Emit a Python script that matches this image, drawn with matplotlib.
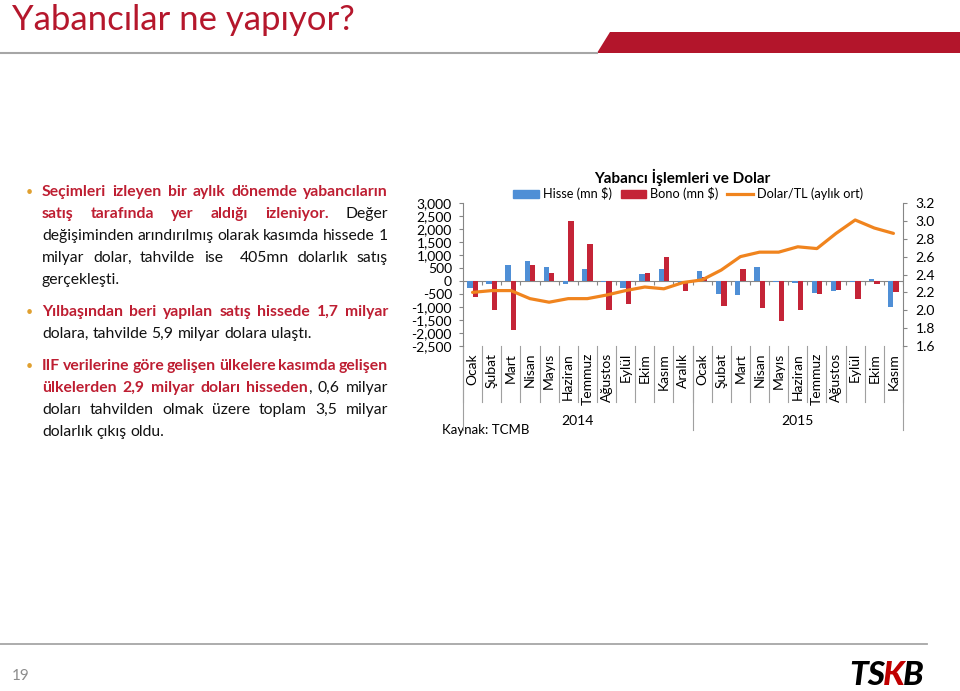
import matplotlib
matplotlib.use("Agg")
import matplotlib.pyplot as plt
import matplotlib.transforms as mtrans
from matplotlib.patches import Polygon, Patch
from matplotlib.lines import Line2D
import numpy as np

plt.rcParams['font.family'] = ['Lato', 'DejaVu Sans']
plt.rcParams['axes.unicode_minus'] = False

# ---- chart data ----
months = ['Ocak', 'Şubat', 'Mart', 'Nisan', 'Mayıs', 'Haziran', 'Temmuz', 'Ağustos',
          'Eylül', 'Ekim', 'Kasım', 'Aralık',
          'Ocak', 'Şubat', 'Mart', 'Nisan', 'Mayıs', 'Haziran', 'Temmuz', 'Ağustos',
          'Eylül', 'Ekim', 'Kasım']
years = ['2014', '2015']
year_len = [12, 11]
hisse = [-270, -115, 630, 760, 550, -100, 470, -40, -260, 270, 470, -60,
         400, -490, -550, 550, -30, -80, -460, -385, -40, 90, -1010]
bono = [-615, -1100, -1900, 630, 320, 2300, 1440, -1100, -900, 320, 910, -370,
        140, -975, 450, -1040, -1550, -1130, -510, -330, -690, -100, -420]
dolar = [2.20, 2.22, 2.22, 2.13, 2.09, 2.13, 2.13, 2.17, 2.22, 2.26, 2.24, 2.31,
         2.34, 2.45, 2.60, 2.65, 2.65, 2.71, 2.69, 2.86, 3.01, 2.92, 2.86]

# ---- slide text ----
paragraphs = [
    [[("Seçimleri izleyen bir aylık dönemde yabancıların", True)],
     [("satış tarafında yer aldığı izleniyor.", True), (" Değer", False)],
     [("değişiminden arındırılmış olarak kasımda hissede 1", False)],
     [("milyar dolar, tahvilde ise  405mn dolarlık satış", False)],
     [("gerçekleşti.", False)]],
    [[("Yılbaşından beri yapılan satış hissede 1,7 milyar", True)],
     [("dolara, tahvilde 5,9 milyar dolara ulaştı.", False)]],
    [[("IIF verilerine göre gelişen ülkelere kasımda gelişen", True)],
     [("ülkelerden 2,9 milyar doları hisseden", True), (", 0,6 milyar", False)],
     [("doları tahvilden olmak üzere toplam 3,5 milyar", False)],
     [("dolarlık çıkış oldu.", False)]],
]
para_y = [[195.5, 217.5, 239.5, 261.5, 283.5], [315.5, 337.5],
          [369.5, 391.5, 413.5, 435.5]]

RED = '#B5172C'
TXTRED = '#BE1E32'
BLUE = '#4F8FD6'
BARRED = '#C42437'
ORANGE = '#F0841E'
GREY = '#8C8C8C'

fig = plt.figure(figsize=(9.6, 6.91), dpi=100)
ov = fig.add_axes([0, 0, 1, 1])
ov.set_xlim(0, 960)
ov.set_ylim(691, 0)
ov.axis('off')
renderer = fig.canvas.get_renderer()

# header / footer
ov.text(12, 30, 'Yabancılar ne yapıyor?', fontsize=25, color=RED, va='baseline')
ov.add_patch(Polygon([(597, 53), (610, 32), (960, 32), (960, 53)], closed=True,
                     color='#B3152B', lw=0))
ov.plot([0, 597], [52.5, 52.5], color='#A6A6A6', lw=1.5)
ov.plot([0, 927], [644, 644], color='#A6A6A6', lw=1.3)
ov.text(12, 680, '19', fontsize=11, color=GREY, va='baseline')

# logo
lx = 849
for s, c in [('TS', 'black'), ('K', '#C00000'), ('B', 'black')]:
    t = ov.text(lx, 685, s, fontsize=24, fontweight='black', style='italic',
                color=c, va='baseline')
    lx += t.get_window_extent(renderer).width - 2

# bullet text, justified like the slide
FS = 12.5
X0, X1 = 42, 388


def measure(s, bold, size):
    t = ov.text(0, 0, s, fontsize=size, fontweight='bold' if bold else 'normal')
    w = t.get_window_extent(renderer).width
    t.remove()
    return w


def to_words(runs):
    words = [[]]
    for text, bold in runs:
        parts = text.split(' ')
        for k, p in enumerate(parts):
            if k > 0:
                words.append([])
            if p:
                words[-1].append((p, bold))
    return words


# one common size so the widest justified line still fits
sp0 = measure('a a', False, FS) - measure('aa', False, FS)
size = FS
for lines in paragraphs:
    for li, runs in enumerate(lines):
        if li == len(lines) - 1:
            continue
        words = to_words(runs)
        nat = sum(sum(measure(s, b, FS) for s, b in w) for w in words) \
            + 0.7 * sp0 * (len(words) - 1)
        size = min(size, FS * (X1 - X0) / nat)
space_w = measure('a a', False, size) - measure('aa', False, size)

for lines, ys in zip(paragraphs, para_y):
    ov.text(26, ys[0], '•', fontsize=9, color='#E0A030', va='baseline')
    for li, (runs, y) in enumerate(zip(lines, ys)):
        words = to_words(runs)
        widths = [sum(measure(s, b, size) for s, b in w) for w in words]
        last = li == len(lines) - 1
        if not last and len(words) > 1:
            gap = (X1 - X0 - sum(widths)) / (len(words) - 1)
        else:
            gap = space_w
        x = X0
        for w, ww in zip(words, widths):
            for s, b in w:
                ov.text(x, y, s, fontsize=size, va='baseline',
                        fontweight='bold' if b else 'normal',
                        color=TXTRED if b else '#111111')
                x += measure(s, b, size)
            x += gap

# ---- chart ----
ax = fig.add_axes([463 / 960, 1 - 346 / 691, 440 / 960, 143 / 691])
ax.patch.set_visible(False)
n = len(months)
x = np.arange(n)
w = 0.28
ax.bar(x - w / 2, hisse, w, color=BLUE, zorder=3)
ax.bar(x + w / 2, bono, w, color=BARRED, zorder=3)
ax.set_xlim(-0.5, n - 0.5)
ax.set_ylim(-2500, 3000)
ax.set_yticks(np.arange(-2500, 3001, 500))
ax.set_yticklabels([f"{v:,.0f}" for v in np.arange(-2500, 3001, 500)], fontsize=10)
ax.axhline(0, color='#868686', lw=0.8, zorder=2)
bounds = np.arange(-0.5, n, 1.0)
ax.vlines(bounds, -150, 0, color='#868686', lw=0.8, zorder=2)
ax.set_xticks(x)
ax.set_xticklabels(months, rotation=90, fontsize=10)
ax.tick_params(axis='x', length=0, pad=5)
ax.tick_params(axis='y', length=3, color='#868686', pad=5)
for sp in ['top', 'right', 'bottom']:
    ax.spines[sp].set_visible(False)
ax.spines['left'].set_color('#868686')

ax2 = ax.twinx()
ax2.plot(x, dolar, color=ORANGE, lw=2.3, zorder=4, solid_capstyle='round')
ax2.set_ylim(1.6, 3.2)
ax2.set_yticks(np.arange(1.6, 3.21, 0.2))
ax2.set_yticklabels([f"{v:.1f}" for v in np.arange(1.6, 3.21, 0.2)], fontsize=10)
ax2.tick_params(axis='y', length=3, color='#868686', pad=6)
for sp in ['top', 'left', 'bottom']:
    ax2.spines[sp].set_visible(False)
ax2.spines['right'].set_color('#868686')

# category separators below the plot
tr = mtrans.blended_transform_factory(ax.transData, ax.transAxes)
sep_top, sep_mid, sep_low = 0.0, -0.392, -0.587
for b in bounds:
    ax.plot([b, b], [sep_top, sep_mid], color='#A0A0A0', lw=0.8, transform=tr, clip_on=False)
start = -0.5
for yr, ln in zip(years, year_len):
    ax.plot([start, start], [sep_top, sep_low], color='#A0A0A0', lw=0.8, transform=tr, clip_on=False)
    ax.text(start + ln / 2, -0.524, yr, transform=tr, ha='center', va='center', fontsize=10)
    start += ln
ax.plot([start, start], [sep_top, sep_low], color='#A0A0A0', lw=0.8, transform=tr, clip_on=False)

ov.text(442, 430, 'Kaynak: TCMB', fontsize=9.5, va='center', ha='left')
ov.text(682, 177, 'Yabancı İşlemleri ve Dolar', fontsize=11, fontweight='bold',
        ha='center', va='center')

handles = [Patch(color=BLUE), Patch(color=BARRED), Line2D([0], [0], color=ORANGE, lw=2.3)]
fig.legend(handles, ['Hisse (mn $)', 'Bono (mn $)', 'Dolar/TL (aylık ort)'],
           loc='center', bbox_to_anchor=(688 / 960, 1 - 194 / 691), ncol=3,
           frameon=False, fontsize=9.2, handlelength=2.0, handleheight=0.6,
           handletextpad=0.3, columnspacing=0.7)

fig.savefig('out.png', dpi=100)
